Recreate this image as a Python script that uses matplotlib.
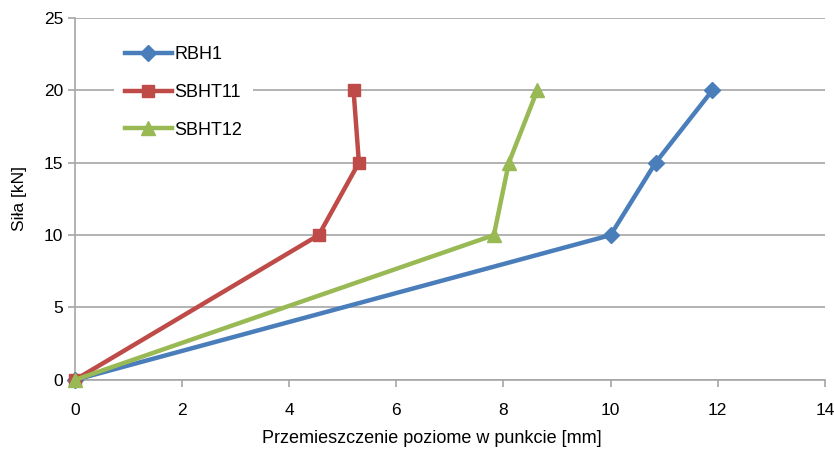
import matplotlib
matplotlib.use("Agg")
import matplotlib.pyplot as plt

plt.rcParams["font.family"] = ["Liberation Sans", "DejaVu Sans"]

sila = [0, 10, 15, 20]
rbh1 = [0, 10.0, 10.84, 11.9]
sbht11 = [0, 4.55, 5.3, 5.2]
sbht12 = [0, 7.82, 8.1, 8.63]

series = [
    ("RBH1", rbh1, "#4A7EBB", "D", 8),
    ("SBHT11", sbht11, "#BE4B48", "s", 9),
    ("SBHT12", sbht12, "#98B954", "^", 10),
]

fig = plt.figure(figsize=(8.34, 4.49), dpi=100)
ax = fig.add_axes([0.09, 0.154, 0.899, 0.806])

for name, xs, color, marker, ms in series:
    ax.plot(xs, sila, color=color, lw=3.2, marker=marker, markersize=ms,
            label=name, clip_on=False, zorder=3)

ax.set_xlim(0, 14)
ax.set_ylim(0, 25)
ax.set_xticks(range(0, 15, 2))
ax.set_yticks(range(0, 26, 5))
ax.grid(axis="y", color="#A6A6A6", lw=1.2)
ax.set_axisbelow(True)

for side in ["top", "right"]:
    ax.spines[side].set_visible(False)
for side in ["left", "bottom"]:
    ax.spines[side].set_color("#A6A6A6")
    ax.spines[side].set_linewidth(1.2)
ax.tick_params(axis="both", colors="#A6A6A6", labelcolor="black", labelsize=12.5,
               length=5, width=1.2)
ax.tick_params(axis="x", pad=12)

ax.set_xlabel("Przemieszczenie poziome w punkcie [mm]", fontsize=13)
ax.xaxis.set_label_coords(0.476, -0.138)
ax.set_ylabel("Siła [kN]", fontsize=12.5, labelpad=12)

leg = ax.legend(loc="upper left", bbox_to_anchor=(0.04, 0.977), frameon=True,
                fontsize=13, handlelength=2.6, labelspacing=1.15,
                borderpad=0.6, handletextpad=0.15)
leg.get_frame().set_edgecolor("none")
leg.get_frame().set_facecolor("white")
leg.get_frame().set_alpha(1)

fig.savefig("out.png", dpi=100)
